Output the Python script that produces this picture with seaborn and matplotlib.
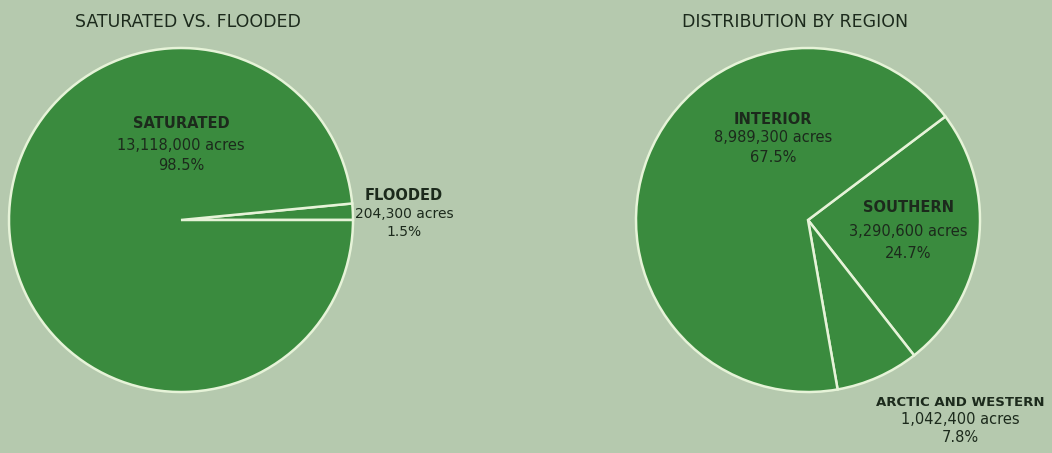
import matplotlib
matplotlib.use('Agg')
import matplotlib.pyplot as plt
import seaborn as sns

# data
flood_labels = ['FLOODED', 'SATURATED']
flood_acres = [204300, 13118000]
flood_pct = ['1.5%', '98.5%']

region_labels = ['SOUTHERN', 'ARCTIC AND WESTERN', 'INTERIOR']
region_acres = [3290600, 1042400, 8989300]
region_pct = ['24.7%', '7.8%', '67.5%']

BG = '#b5c9ae'
GREEN = '#3a8b3e'
EDGE = '#e6f3d8'
INK = '#1c2a1c'

sns.set_theme(style='white')
plt.rcParams['font.family'] = ['DejaVu Sans']

W, H = 1052, 453
fig = plt.figure(figsize=(W / 100, H / 100), dpi=100, facecolor=BG)
ax = fig.add_axes([0, 0, 1, 1])
ax.set_facecolor(BG)


def Y(y):
    return H - y


wedge = dict(edgecolor=EDGE, linewidth=1.8)
ax.pie(flood_acres, colors=[GREEN] * 2, startangle=0, counterclock=True,
       center=(181, Y(220)), radius=172, wedgeprops=wedge, frame=True)
ax.pie(region_acres, colors=[GREEN] * 3, startangle=37, counterclock=False,
       center=(808, Y(220)), radius=172, wedgeprops=wedge, frame=True)
ax.set_xlim(0, W)
ax.set_ylim(0, H)
ax.set_aspect('equal')
ax.axis('off')

ax.text(188, Y(22), 'SATURATED VS. FLOODED', ha='center', va='center',
        fontsize=12.5, color=INK)
ax.text(795, Y(22), 'DISTRIBUTION BY REGION', ha='center', va='center',
        fontsize=12.5, color=INK)


def label(x, y, name, acres, pct, gap=20, namesize=10.5, size=10.5):
    ax.text(x, Y(y), name, ha='center', va='center', fontsize=namesize,
            fontweight='bold', color=INK)
    ax.text(x, Y(y + gap), f'{acres:,} acres', ha='center', va='center',
            fontsize=size, color=INK)
    ax.text(x, Y(y + 2 * gap), pct, ha='center', va='center',
            fontsize=size, color=INK)


label(404, 196, flood_labels[0], flood_acres[0], flood_pct[0], gap=18,
      size=10)
label(181, 124, flood_labels[1], flood_acres[1], flood_pct[1], gap=21)
label(908, 208, region_labels[0], region_acres[0], region_pct[0], gap=23)
label(960, 403, region_labels[1], region_acres[1], region_pct[1], gap=17,
      namesize=9.5)
label(773, 119, region_labels[2], region_acres[2], region_pct[2], gap=19)

fig.savefig('out.png', dpi=100, facecolor=BG)
